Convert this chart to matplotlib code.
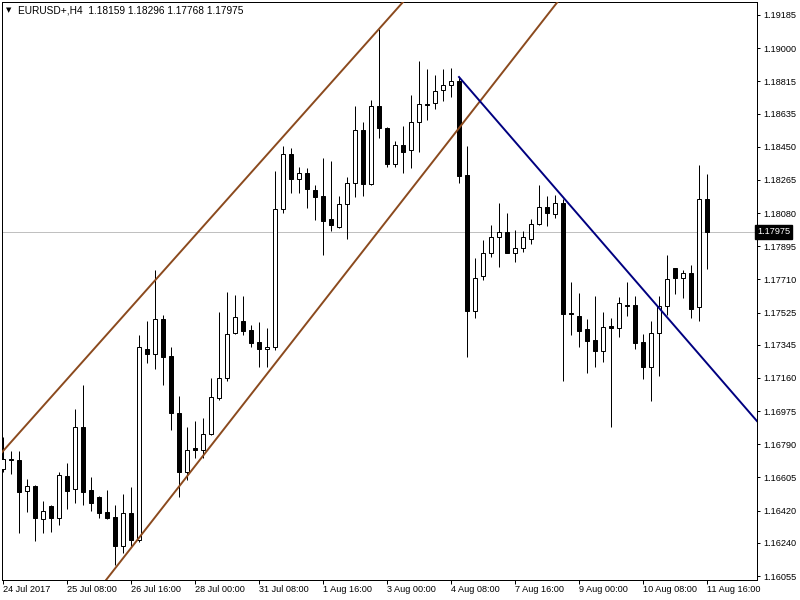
import matplotlib.pyplot as plt
from matplotlib.patches import Rectangle

# EURUSD+ H4 candles, 24 Jul 2017 00:00 .. 11 Aug 2017 16:00
opens = [1.16652, 1.16708, 1.16702, 1.16529, 1.16557, 1.16373, 1.16446, 1.16379, 1.16613, 1.16540,
         1.16886, 1.16535, 1.16496, 1.16412, 1.16384, 1.16222, 1.16407, 1.16256, 1.17322, 1.17294,
         1.17489, 1.17282, 1.16964, 1.16635, 1.16769, 1.16758, 1.16847, 1.17048, 1.17160, 1.17411,
         1.17478, 1.17428, 1.17361, 1.17322, 1.17333, 1.18103, 1.18409, 1.18270, 1.18303, 1.18209,
         1.18175, 1.18047, 1.18002, 1.18131, 1.18248, 1.18543, 1.18242, 1.18677, 1.18555, 1.18354,
         1.18460, 1.18432, 1.18588, 1.18688, 1.18694, 1.18767, 1.18794, 1.18817, 1.18292, 1.17534,
         1.17729, 1.17857, 1.17946, 1.17974, 1.17857, 1.17885, 1.17935, 1.18019, 1.18114, 1.18075,
         1.18136, 1.17522, 1.17506, 1.17433, 1.17372, 1.17310, 1.17450, 1.17439, 1.17567, 1.17567,
         1.17361, 1.17221, 1.17411, 1.17561, 1.17773, 1.17718, 1.17746, 1.17556, 1.18159]
highs = [1.16831, 1.16752, 1.16752, 1.16596, 1.16560, 1.16473, 1.16449, 1.16635, 1.16686, 1.16987,
         1.17121, 1.16607, 1.16501, 1.16535, 1.16451, 1.16513, 1.16552, 1.17400, 1.17478, 1.17762,
         1.17511, 1.17333, 1.17059, 1.16886, 1.16920, 1.16937, 1.17160, 1.17528, 1.17640, 1.17623,
         1.17617, 1.17455, 1.17472, 1.17439, 1.18315, 1.18454, 1.18443, 1.18337, 1.18331, 1.18237,
         1.18387, 1.18370, 1.18175, 1.18281, 1.18677, 1.18588, 1.18711, 1.19107, 1.18560, 1.18482,
         1.18566, 1.18739, 1.18928, 1.18884, 1.18850, 1.18884, 1.18889, 1.18839, 1.18454, 1.17829,
         1.17930, 1.18013, 1.18136, 1.18080, 1.17985, 1.17980, 1.18047, 1.18237, 1.18175, 1.18181,
         1.18158, 1.17695, 1.17634, 1.17489, 1.17617, 1.17528, 1.17494, 1.17612, 1.17695, 1.17617,
         1.17405, 1.17478, 1.17617, 1.17846, 1.17776, 1.17762, 1.17790, 1.18348, 1.18296]
lows = [1.16635, 1.16624, 1.16295, 1.16412, 1.16250, 1.16295, 1.16301, 1.16340, 1.16429, 1.16462,
        1.16451, 1.16418, 1.16379, 1.16373, 1.16116, 1.16183, 1.16222, 1.16245, 1.17243, 1.17210,
        1.17121, 1.16870, 1.16496, 1.16591, 1.16713, 1.16713, 1.16842, 1.17037, 1.17143, 1.17405,
        1.17400, 1.17333, 1.17221, 1.17221, 1.17316, 1.18080, 1.18192, 1.18192, 1.18108, 1.18041,
        1.17846, 1.17980, 1.17997, 1.17935, 1.18170, 1.18175, 1.18237, 1.18499, 1.18337, 1.18337,
        1.18303, 1.18331, 1.18421, 1.18599, 1.18660, 1.18705, 1.18728, 1.18248, 1.17277, 1.17494,
        1.17707, 1.17835, 1.17779, 1.17857, 1.17807, 1.17863, 1.17907, 1.18013, 1.18008, 1.18052,
        1.17143, 1.17400, 1.17333, 1.17188, 1.17221, 1.17249, 1.16886, 1.17388, 1.17506, 1.17322,
        1.17154, 1.17031, 1.17171, 1.17511, 1.17628, 1.17606, 1.17494, 1.17478, 1.17768]
closes = [1.16708, 1.16702, 1.16524, 1.16557, 1.16379, 1.16418, 1.16379, 1.16619, 1.16529, 1.16886,
          1.16524, 1.16462, 1.16407, 1.16379, 1.16222, 1.16407, 1.16256, 1.17333, 1.17294, 1.17489,
          1.17277, 1.16964, 1.16635, 1.16758, 1.16758, 1.16847, 1.17054, 1.17160, 1.17405, 1.17500,
          1.17422, 1.17355, 1.17322, 1.17333, 1.18103, 1.18409, 1.18270, 1.18303, 1.18214, 1.18170,
          1.18036, 1.18013, 1.18131, 1.18248, 1.18543, 1.18242, 1.18677, 1.18555, 1.18354, 1.18460,
          1.18421, 1.18588, 1.18688, 1.18683, 1.18761, 1.18794, 1.18817, 1.18287, 1.17534, 1.17718,
          1.17857, 1.17946, 1.17974, 1.17857, 1.17885, 1.17946, 1.18019, 1.18114, 1.18080, 1.18136,
          1.17517, 1.17517, 1.17422, 1.17366, 1.17310, 1.17444, 1.17439, 1.17578, 1.17561, 1.17355,
          1.17221, 1.17411, 1.17561, 1.17712, 1.17718, 1.17746, 1.17545, 1.18159, 1.17975]

symbol = "EURUSD+,H4"
date_labels = ["24 Jul 2017", "25 Jul 08:00", "26 Jul 16:00", "28 Jul 00:00", "31 Jul 08:00",
               "1 Aug 16:00", "3 Aug 00:00", "4 Aug 08:00", "7 Aug 16:00", "9 Aug 00:00",
               "10 Aug 08:00", "11 Aug 16:00"]
label_step = 8  # a date label every 8 bars
price_labels = ["1.19185", "1.19000", "1.18815", "1.18635", "1.18450", "1.18265", "1.18080",
                "1.17895", "1.17710", "1.17525", "1.17345", "1.17160", "1.16975", "1.16790",
                "1.16605", "1.16420", "1.16240", "1.16055"]

# trendlines as (bar index, price) anchor pairs
channel_upper = [(0, 1.16752), (47, 1.19107)]
channel_lower = [(16, 1.16211), (64, 1.18954)]
down_line = [(57, 1.18839), (70, 1.18169)]

BROWN = "#8b4a1e"
NAVY = "#000080"
FONT = ["Liberation Sans", "DejaVu Sans"]
plt.rcParams["font.family"] = FONT

fig = plt.figure(figsize=(8, 6), dpi=100)
ax = fig.add_axes([2 / 800, 20 / 600, 755 / 800, 578 / 600])
ax.set_xlim(-0.125, 94.25)
ax.set_ylim(1.160327, 1.192575)

px = 0.72  # one pixel in points
body_w = 0.5

# current price line
last = closes[-1]
ax.axhline(last, color="#c0c0c0", lw=px, zorder=1)

for i in range(len(opens)):
    o, h, l, c = opens[i], highs[i], lows[i], closes[i]
    ax.vlines(i, l, h, color="black", lw=px, zorder=2)
    bottom = min(o, c)
    height = abs(c - o)
    fill = "white" if c > o else "black"
    if height < 1e-6:
        ax.hlines(o, i - body_w / 2, i + body_w / 2, color="black", lw=px, zorder=3)
    else:
        ax.add_patch(Rectangle((i - body_w / 2, bottom), body_w, height,
                               facecolor=fill, edgecolor="black", lw=px, zorder=3))

# channel lines (rays through the chart)
for line in (channel_upper, channel_lower):
    ax.axline(line[0], line[1], color=BROWN, lw=1.4, zorder=4)

# descending line from the 4 Aug high to the right edge
(x0, y0), (x1, y1) = down_line
slope = (y1 - y0) / (x1 - x0)
xe = ax.get_xlim()[1]
ax.plot([x0, xe], [y0, y0 + slope * (xe - x0)], color=NAVY, lw=1.4, zorder=4)

# axes styling
for sp in ax.spines.values():
    sp.set_linewidth(px)
    sp.set_color("black")
ax.yaxis.tick_right()
ax.set_yticks([float(s) for s in price_labels])
ax.set_yticklabels(price_labels)
ax.set_xticks([k * label_step for k in range(len(date_labels))])
ax.set_xticklabels(date_labels, ha="left")
ax.tick_params(axis="y", which="both", direction="out", length=2.2, width=px, pad=2.2,
               labelsize=6.6, colors="black")
ax.tick_params(axis="x", which="both", direction="out", length=2.8, width=px, pad=1.0,
               labelsize=6.6, colors="black")
ax.tick_params(left=False, labelleft=False)

# current price tag on the price scale
ax.text(1.0, last, "%.5f" % last, transform=ax.get_yaxis_transform(), ha="left", va="center",
        fontsize=6.6, color="white", zorder=6, clip_on=False,
        bbox=dict(boxstyle="square,pad=0.25", facecolor="black", edgecolor="black"))

# header
fig.text(6 / 800, 1 - 10.5 / 600, "\u25bc", fontsize=5, va="center", ha="left",
         family=["DejaVu Sans"])
fig.text(18 / 800, 1 - 10.5 / 600,
         "%s  %.5f %.5f %.5f %.5f" % (symbol, opens[-1], highs[-1], lows[-1], closes[-1]),
         fontsize=7.3, va="center", ha="left")

fig.savefig("out.png", dpi=100, facecolor="white")
